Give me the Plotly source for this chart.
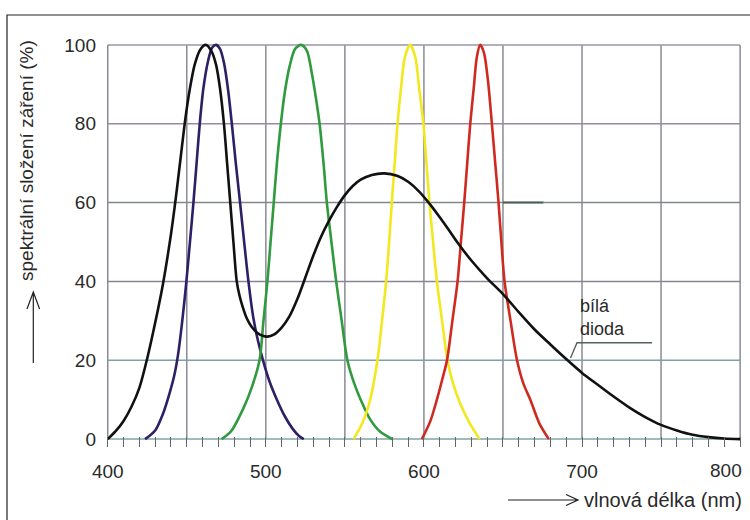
import plotly.graph_objects as go

# ---------------- data ----------------
blue_nm = [423.6, 430, 435, 439, 442, 444.5, 447, 449.5, 452, 454.2, 456.2, 458.2, 460.5, 463.5, 466, 468.5,
           471, 473.5, 476, 478.5, 481, 483.7, 486.3, 489, 492, 495, 498, 502, 507, 512, 517, 521, 524]
blue_val = [0, 2.2, 6.5, 11.5, 16, 21.5, 29.5, 39, 50, 60, 70, 80, 89, 96, 99.3, 100,
            99, 95.5, 89, 80, 70, 60, 50, 40, 31, 25, 20.3, 15, 10, 5.8, 2.6, 0.8, 0]

green_nm = [472, 478, 486, 491, 496, 498.5, 501, 503, 505, 507, 509.5, 512, 515, 518.5, 522.3,
            526, 529, 531.5, 534, 536.5, 538.6, 541.5, 544.5, 548, 551.6, 556, 560, 566, 572, 580]
green_val = [0, 2, 8, 13, 20, 30, 40, 50, 60, 70, 80, 88, 94.5, 99, 100,
             98.5, 93, 87, 80, 70, 60, 50, 40, 30, 20, 14, 10, 5, 2, 0]

yellow_nm = [555.5, 561, 566, 570.6, 573.5, 576.1, 578, 579.7, 581.5, 583.3, 585.5, 588, 591.3,
             594.5, 597, 599.7, 601.6, 603.5, 605.8, 608.2, 611.5, 614.9, 618.5, 623, 629, 635.2]
yellow_val = [0, 4, 10, 20, 30, 40, 50, 60, 70, 80, 89, 97, 100,
              97, 89, 80, 70, 60, 50, 40, 30, 20, 14, 9, 4, 0]

red_nm = [598.7, 604, 608.2, 611.5, 614.6, 618, 621.3, 623.4, 625.5, 627.4, 629.3, 631.5, 633.5, 635.6,
          638, 640.5, 643, 645.1, 647.2, 649, 651, 654.8, 658.9, 663, 667.3, 673, 679]
red_val = [0, 4.5, 10, 15, 20, 30, 40, 50, 60, 70, 80, 89, 97, 100,
           98, 91, 80, 70, 60, 50, 40, 30, 20, 14, 10, 4, 0]

white_nm = [400, 405, 410, 415, 420, 425, 430, 435, 440, 443, 446, 449, 452, 455, 458.5, 462,
            465.5, 468.5, 471, 473.5, 475.5, 477.5, 479.5, 481.6, 483.3, 485.4, 488, 491, 494.5, 498, 501,
            505, 510, 515, 520, 525, 530, 535, 540, 545, 550, 555, 560, 567, 575, 583, 590, 597,
            603, 610, 615, 621, 630, 640, 650, 660, 670, 680, 690, 700, 710, 720, 730, 740, 750,
            760, 770, 780, 790, 800]
white_val = [0, 2, 4.6, 8.2, 13, 20.5, 29.5, 39.5, 52, 61, 71, 81, 89, 95, 98.8, 100,
             98.5, 95, 89, 80, 70, 60, 50, 40, 36.5, 33.5, 30.6, 28.5, 27, 26.2, 26,
             26.5, 28.3, 31.2, 35.6, 41, 46.5, 51.4, 55.4, 58.9, 61.9, 64.2, 65.8, 67, 67.4, 66.8, 65.3, 62.8,
             60, 56.3, 53.5, 50, 45.3, 40.8, 36.8, 32.2, 27.8, 24, 20.3, 16.8, 13.8, 10.8, 8, 5.6, 3.6,
             2.2, 1.1, 0.5, 0.15, 0]

x_grid = [400, 450, 500, 550, 600, 650, 700, 750, 800]
x_label_vals = [400, 500, 600, 700, 800]
x_labels = ["400", "500", "600", "700", "800"]
y_ticks = [0, 20, 40, 60, 80, 100]
y_labels = ["0", "20", "40", "60", "80", "100"]
x_minor_step = 10

# ---------------- layout helpers ----------------
W, H = 750, 520
L, R, T, B = 103, 2, 39, 73
X0, X1 = 397, 805
Y0, Y1 = -2, 101.5
PW, PH = W - L - R, H - T - B


def px(x):
    return (x - L) / PW


def py(y):
    return (H - B - y) / PH


FONT = "Liberation Sans, Arial, Helvetica, sans-serif"
TXT = "#2a2a2a"

# tick marks every 10 nm, labels only at hundreds (800 drawn separately near the page edge)
tick_vals = list(range(x_grid[0], x_grid[-1] + 1, x_minor_step))
tick_text = [(x_labels[x_label_vals.index(v)] if (v in x_label_vals and v != 800) else "") for v in tick_vals]

fig = go.Figure()

series = [
    (blue_nm, blue_val, "#2e1f66"),
    (green_nm, green_val, "#2f9a3e"),
    (yellow_nm, yellow_val, "#f2e81e"),
    (red_nm, red_val, "#cf2a20"),
    (white_nm, white_val, "#111111"),
]
for xs, ys, col in series:
    fig.add_trace(go.Scatter(x=xs, y=ys, mode="lines",
                             line=dict(color=col, width=2.6, shape="spline", smoothing=0.8),
                             hoverinfo="skip", showlegend=False))

shapes = []
# grid
for v in x_grid:
    shapes.append(dict(type="line", xref="x", yref="y", x0=v, x1=v, y0=0, y1=100,
                       line=dict(color="#8a8a94", width=1.5), layer="below"))
h_cols = {0: "#7fa6a6", 20: "#7fa0a6", 40: "#8c8296", 60: "#80898a", 80: "#9a88a2", 100: "#9a96a8"}
for h in y_ticks:
    shapes.append(dict(type="line", xref="x", yref="y", x0=400, x1=800, y0=h, y1=h,
                       line=dict(color=h_cols[h], width=1.5), layer="below"))
# darker segment on the 60 line
shapes.append(dict(type="line", xref="x", yref="y", x0=650, x1=675.5, y0=60, y1=60,
                   line=dict(color="#4f5f58", width=2), layer="below"))
# outer frame
shapes.append(dict(type="path", xref="paper", yref="paper",
                   path=f"M {px(7)},{py(540)} L {px(7)},{py(15)} L {px(770)},{py(15)}",
                   line=dict(color="#222", width=1.2)))
# y arrow
shapes.append(dict(type="path", xref="paper", yref="paper",
                   path=f"M {px(33.3)},{py(363)} L {px(33.3)},{py(292)} "
                        f"M {px(27)},{py(309)} L {px(33.3)},{py(292)} L {px(39.6)},{py(309)}",
                   line=dict(color="#222", width=1.2)))
# x arrow
shapes.append(dict(type="path", xref="paper", yref="paper",
                   path=f"M {px(508)},{py(500)} L {px(578)},{py(500)} "
                        f"M {px(566)},{py(494.5)} L {px(578)},{py(500)} L {px(566)},{py(505.5)}",
                   line=dict(color="#222", width=1.2)))
# leader line for label
shapes.append(dict(type="path", xref="paper", yref="paper",
                   path=f"M {px(652)},{py(342.7)} L {px(577)},{py(342.7)} L {px(570.5)},{py(358)}",
                   line=dict(color="#55605a", width=1.4)))

annotations = [
    dict(text="spektrální složení záření (%)", xref="paper", yref="paper",
         x=px(26), y=py(161), textangle=-90, showarrow=False, xanchor="center", yanchor="middle",
         font=dict(family=FONT, size=19, color=TXT)),
    dict(text="vlnová délka (nm)", xref="paper", yref="paper",
         x=px(582), y=py(500), showarrow=False, xanchor="left", yanchor="middle",
         font=dict(family=FONT, size=20, color=TXT)),
    dict(text="bílá", xref="paper", yref="paper",
         x=px(579), y=py(306), showarrow=False, xanchor="left", yanchor="middle",
         borderpad=0, font=dict(family=FONT, size=18, color=TXT)),
    dict(text="dioda", xref="paper", yref="paper",
         x=px(579), y=py(329), showarrow=False, xanchor="left", yanchor="middle",
         borderpad=0, font=dict(family=FONT, size=18, color=TXT)),
    # last x tick label (sits against the right edge of the page)
    dict(text=x_labels[-1], xref="paper", yref="paper",
         x=px(744), y=py(470), showarrow=False, xanchor="right", yanchor="middle",
         font=dict(family=FONT, size=19, color=TXT)),
]

fig.update_layout(
    width=W, height=H,
    margin=dict(l=L, r=R, t=T, b=B, pad=0),
    paper_bgcolor="white", plot_bgcolor="white",
    showlegend=False,
    shapes=shapes,
    annotations=annotations,
    xaxis=dict(range=[X0, X1],
               tickmode="array", tickvals=tick_vals, ticktext=tick_text,
               ticks="inside", ticklen=10, tickwidth=1.3, tickcolor="#666",
               showgrid=False, zeroline=False, showline=False,
               ticklabelstandoff=11,
               tickfont=dict(family=FONT, size=19, color=TXT)),
    yaxis=dict(range=[Y0, Y1], tickmode="array", tickvals=y_ticks, ticktext=y_labels,
               ticks="", showgrid=False, zeroline=False, showline=False,
               ticklabelstandoff=6,
               tickfont=dict(family=FONT, size=19, color=TXT)),
)

fig.write_html("out.html")
